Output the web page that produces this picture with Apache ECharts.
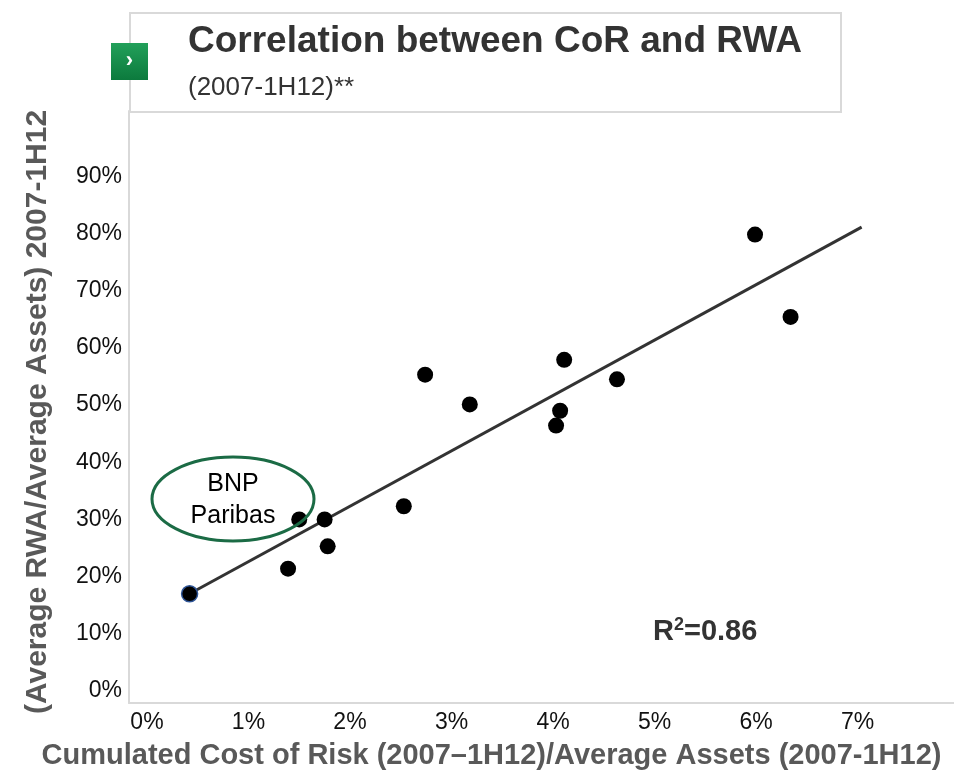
<!DOCTYPE html>
<html>
<head>
<meta charset="utf-8">
<script src="https://cdn.jsdelivr.net/npm/echarts@6/dist/echarts.min.js"></script>
<style>
html,body{margin:0;padding:0;background:#fff;}
#chart{width:954px;height:774px;}
</style>
</head>
<body>
<div id="chart"></div>
<script>
// Data (percent values)
const costOfRisk = [0.42, 1.39, 1.50, 1.75, 1.78, 2.53, 2.74, 3.18, 4.03, 4.07, 4.11, 4.63, 5.99, 6.34];
const rwaRatio   = [17.0, 21.4, 30.0, 30.0, 25.3, 32.3, 55.3, 50.1, 46.4, 49.0, 57.9, 54.5, 79.8, 65.4];
const bnpIndex = 0;
const trendX = [0.42, 7.04];
const trendY = [17.0, 81.1];
const xTicks = [0, 1, 2, 3, 4, 5, 6, 7];
const yTicks = [0, 10, 20, 30, 40, 50, 60, 70, 80, 90];
const titleText = 'Correlation between CoR and RWA';
const subtitleText = '(2007-1H12)**';
const xName = 'Cumulated Cost of Risk (2007\u20131H12)/Average Assets (2007-1H12)';
const yName = '(Average RWA/Average Assets) 2007-1H12';
const bnpLabel = 'BNP\nParibas';

const FONT = '"Liberation Sans", Arial, sans-serif';
const chart = echarts.init(document.getElementById('chart'), null, {renderer: 'canvas'});

const scatterData = costOfRisk.map((x, i) => {
  const d = {value: [x, rwaRatio[i]]};
  if (i === bnpIndex) d.itemStyle = {borderColor: '#2f5597', borderWidth: 1.5};
  return d;
});

chart.setOption({
  animation: false,
  backgroundColor: '#fff',
  grid: {left: 129, top: 111, right: 0, bottom: 71, containLabel: false, outerBoundsMode: 'none'},
  xAxis: {
    type: 'value', min: -0.177, max: 7.95,
    axisLine: {show: true, onZero: false, lineStyle: {color: '#d9d9d9', width: 2}},
    axisTick: {show: false},
    splitLine: {show: false},
    axisLabel: {customValues: xTicks, formatter: v => Math.round(v) + '%', color: '#111', fontSize: 23, fontFamily: FONT, margin: 8},
    name: xName, nameLocation: 'middle', nameGap: 38,
    nameTextStyle: {color: '#595959', fontSize: 29, fontWeight: 'bold', fontFamily: FONT, padding: [0, 100, 0, 0]}
  },
  yAxis: {
    type: 'value', min: -2.09, max: 101.4,
    axisLine: {show: true, onZero: false, lineStyle: {color: '#d9d9d9', width: 2}},
    axisTick: {show: false},
    splitLine: {show: false},
    axisLabel: {customValues: yTicks, formatter: v => Math.round(v) + '%', color: '#111', fontSize: 23, fontFamily: FONT, margin: 7},
    name: yName, nameLocation: 'middle', nameGap: 76, nameRotate: 90,
    nameTextStyle: {color: '#595959', fontSize: 30, fontWeight: 'bold', fontFamily: FONT, padding: [0, 10, 0, 0]}
  },
  series: [
    {
      type: 'line', data: trendX.map((x, i) => [x, trendY[i]]),
      symbol: 'none', lineStyle: {color: '#333', width: 3}, z: 2, silent: true
    },
    {
      type: 'scatter', data: scatterData, symbol: 'circle', symbolSize: 16,
      itemStyle: {color: '#000', opacity: 1}, z: 3
    }
  ],
  graphic: [
    {type: 'rect', left: 129, top: 12, shape: {width: 711, height: 99},
     style: {fill: '#fff', stroke: '#d9d9d9', lineWidth: 2}, z: 10},
    {type: 'rect', left: 111, top: 43, shape: {width: 37, height: 37},
     style: {fill: new echarts.graphic.LinearGradient(0, 0, 0, 1, [{offset: 0, color: '#22a05a'}, {offset: 1, color: '#0c7a3d'}])}, z: 11},
    {type: 'text', x: 129.5, y: 61, z: 12,
     style: {text: '\u203a', fill: '#fff', font: 'bold 22px ' + FONT, align: 'center', verticalAlign: 'middle'}},
    {type: 'text', x: 188, y: 42, z: 12,
     style: {text: titleText, fill: '#333', font: 'bold 37px ' + FONT, align: 'left', verticalAlign: 'middle'}},
    {type: 'text', x: 188, y: 88, z: 12,
     style: {text: subtitleText, fill: '#333', font: '26px ' + FONT, align: 'left', verticalAlign: 'middle'}},
    {type: 'ellipse', shape: {cx: 233, cy: 499, rx: 81, ry: 42},
     style: {fill: 'none', stroke: '#1b6b45', lineWidth: 3}, z: 5},
    {type: 'text', x: 233, y: 500, z: 6,
     style: {text: bnpLabel, fill: '#000', font: '25px ' + FONT, align: 'center', verticalAlign: 'middle', lineHeight: 32}},
    {type: 'text', x: 653, y: 632, z: 6,
     style: {
       text: '{b|R}{s|2}{b|=0.86}', align: 'left', verticalAlign: 'middle',
       rich: {
         b: {fill: '#333', font: 'bold 29px ' + FONT, verticalAlign: 'middle', lineHeight: 32},
         s: {fill: '#333', font: 'bold 18px ' + FONT, verticalAlign: 'top', lineHeight: 32, padding: [0, 0, 10, 0]}
       }
     }}
  ]
});
</script>
</body>
</html>
